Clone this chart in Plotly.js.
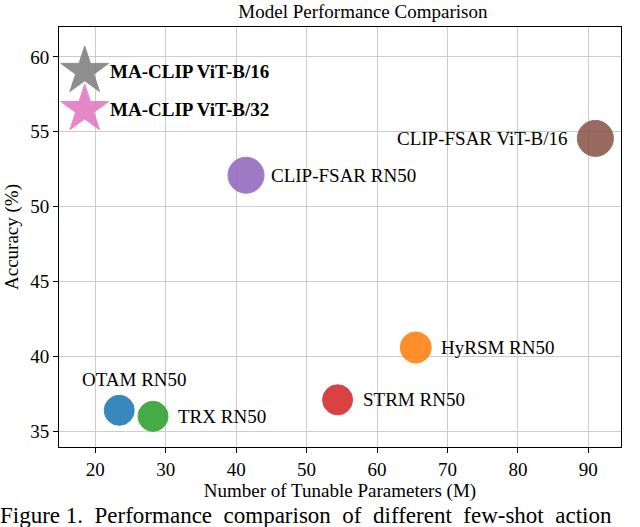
<!DOCTYPE html>
<html>
<head>
<meta charset="utf-8">
<script src="https://cdn.plot.ly/plotly-3.0.1.min.js"></script>
<style>html,body{margin:0;padding:0;background:#fff;}#chart{width:640px;height:527px;}</style>
</head>
<body>
<div id="chart"></div>
<script>
// ---- data ----
const modelNames = ["MA-CLIP ViT-B/16", "MA-CLIP ViT-B/32", "CLIP-FSAR ViT-B/16", "CLIP-FSAR RN50", "HyRSM RN50", "STRM RN50", "OTAM RN50", "TRX RN50"];
const tunableParams = [18.5, 18.5, 91.0, 41.4, 65.5, 54.4, 23.4, 28.2];
const accuracy = [59.05, 56.5, 54.56, 52.1, 40.6, 37.1, 36.4, 36.0];

// ---- styles ----
const markerColors = ["#7f7f7f", "#e377c2", "#8c564b", "#9467bd", "#ff7f0e", "#d62728", "#1f77b4", "#2ca02c"];
const markerSymbols = ["star", "star", "circle", "circle", "circle", "circle", "circle", "circle"];
const markerSizes = [36, 36, 36, 36, 31, 30, 30, 30];
const labelBold = [true, true, false, false, false, false, false, false];
const labelPlace = ["right", "right", "left", "right", "right", "right", "above", "right"];

const FONT = "Liberation Serif, Times New Roman, serif";
const FS = 19;

const traces = [{
  type: "scatter", mode: "markers",
  x: tunableParams, y: accuracy,
  marker: {color: markerColors, symbol: markerSymbols, size: markerSizes, opacity: 0.88,
           line: {color: markerColors, width: 1}},
  hoverinfo: "skip", showlegend: false
}, {
  type: "scatter", mode: "markers",
  x: tunableParams, y: accuracy,
  marker: {color: "rgba(255,255,255,0)", symbol: markerSymbols.map(s => s + "-open"),
           size: markerSizes.map(s => s - 4), opacity: 0.75,
           line: {color: "white", width: 0.8}},
  hoverinfo: "skip", showlegend: false
}];

const annotations = modelNames.map((name, i) => {
  const a = {
    x: tunableParams[i], y: accuracy[i], xref: "x", yref: "y",
    text: labelBold[i] ? "<b>" + name + "</b>" : name,
    showarrow: false, font: {family: FONT, size: FS, color: "#000"}
  };
  if (labelPlace[i] === "right") { a.xanchor = "left"; a.xshift = 23; }
  else if (labelPlace[i] === "left") { a.xanchor = "right"; a.xshift = -26; }
  else { a.xanchor = "center"; a.xshift = 15; a.yshift = 31; }
  return a;
});

annotations.push({
  x: 0, y: 0, xref: "paper", yref: "paper", yanchor: "top", xanchor: "left", xshift: -61, yshift: -54,
  text: "Figure 1.  Performance  comparison  of  different  few-shot  action",
  showarrow: false, font: {family: FONT, size: 23, color: "#000"}
});

const layout = {
  width: 640, height: 527,
  margin: {l: 59, r: 19, t: 27, b: 80, pad: 0},
  paper_bgcolor: "#fff", plot_bgcolor: "#fff",
  font: {family: FONT, size: FS, color: "#000"},
  title: {text: "Model Performance Comparison", x: 0.567, xanchor: "center", y: 0.978, yanchor: "middle",
          font: {family: FONT, size: FS, color: "#000"}},
  xaxis: {
    range: [14.85, 94.64], tickvals: [20, 30, 40, 50, 60, 70, 80, 90],
    showgrid: true, gridcolor: "#cccccc", gridwidth: 1, zeroline: false,
    showline: true, linecolor: "#000", linewidth: 1, mirror: true,
    ticks: "outside", ticklen: 5, tickcolor: "#000",
    tickfont: {family: FONT, size: FS, color: "#000"},
    title: {text: "Number of Tunable Parameters (M)", standoff: 4, font: {family: FONT, size: FS, color: "#000"}}
  },
  yaxis: {
    range: [33.95, 62.0], tickvals: [35, 40, 45, 50, 55, 60],
    showgrid: true, gridcolor: "#cccccc", gridwidth: 1, zeroline: false,
    showline: true, linecolor: "#000", linewidth: 1, mirror: true,
    ticks: "outside", ticklen: 5, tickcolor: "#000",
    tickfont: {family: FONT, size: FS, color: "#000"},
    title: {text: "Accuracy (%)", standoff: 6, font: {family: FONT, size: FS, color: "#000"}}
  },
  annotations: annotations
};

Plotly.newPlot("chart", traces, layout, {displayModeBar: false, staticPlot: true});
</script>
</body>
</html>
